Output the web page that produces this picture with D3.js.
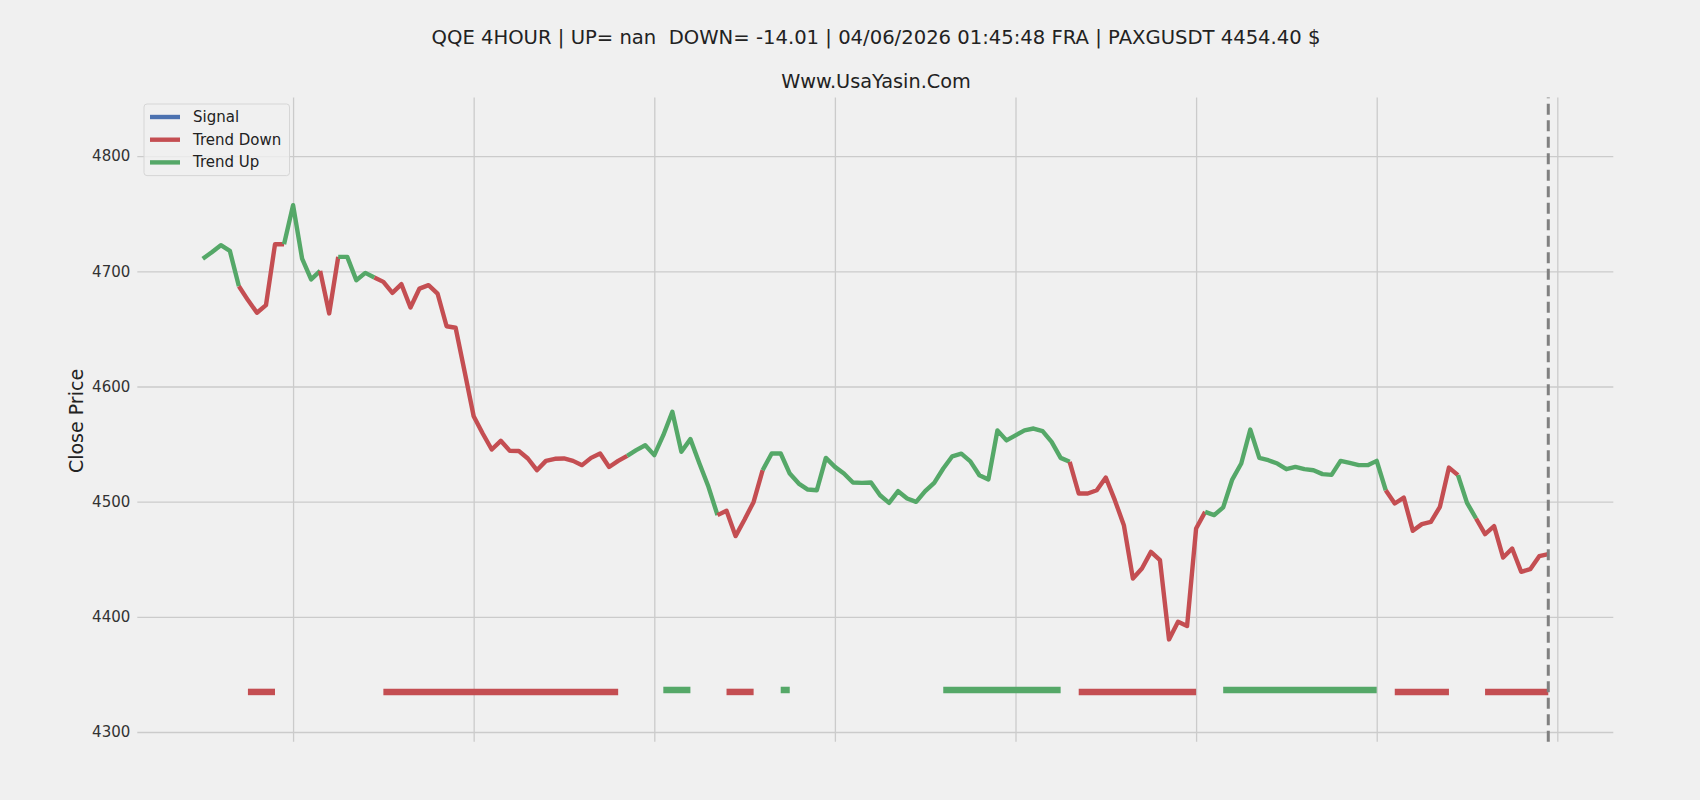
<!DOCTYPE html>
<meta charset="utf-8">

<!-- Load d3.js -->
<script src="https://d3js.org/d3.v7.min.js"></script>

<style>
  body { margin: 0; background: #f0f0f0; }
  text { font-family: "DejaVu Sans", sans-serif; }
</style>

<!-- Create a div where the graph will take place -->
<div id="my_dataviz"></div>

<script>

// close price of each 4 hour bar
var close = [
  4710.8, 4716.6, 4722.7, 4717.7, 4687.0, 4675.0, 4664.0, 4670.6, 4723.5, 4723.5,
  4757.4, 4711.0, 4693.0, 4700.4, 4663.4, 4712.5, 4712.5, 4692.3, 4698.6, 4694.6,
  4690.8, 4681.3, 4688.8, 4668.6, 4685.0, 4688.0, 4680.7, 4652.3, 4651.0, 4612.8,
  4574.2, 4559.2, 4545.3, 4552.8, 4544.1, 4544.0, 4537.5, 4527.3, 4535.4, 4537.2,
  4537.5, 4535.4, 4531.7, 4538.0, 4541.8, 4530.1, 4535.4, 4539.8, 4544.7, 4549.0,
  4540.4, 4557.7, 4578.0, 4543.3, 4554.3, 4533.2, 4512.9, 4488.3, 4492.1, 4470.1,
  4484.5, 4499.8, 4527.3, 4541.8, 4541.8, 4524.4, 4515.7, 4510.5, 4509.9, 4538.0,
  4530.2, 4524.4, 4516.6, 4516.3, 4516.6, 4505.6, 4499.0, 4509.1, 4502.8, 4499.8,
  4509.1, 4516.3, 4528.8, 4539.4, 4541.7, 4535.0, 4522.9, 4519.3, 4561.9, 4553.2,
  4557.6, 4561.9, 4563.5, 4561.2, 4551.9, 4538.0, 4534.6, 4507.1, 4507.1, 4509.9,
  4521.0, 4501.3, 4479.6, 4433.3, 4442.0, 4456.4, 4449.2, 4380.4, 4395.7, 4392.0,
  4476.7, 4491.1, 4488.3, 4495.0, 4519.2, 4533.1, 4562.6, 4538.0, 4536.0, 4533.1,
  4528.2, 4530.2, 4528.2, 4527.3, 4523.9, 4523.3, 4535.4, 4533.7, 4531.7, 4531.7,
  4535.4, 4509.9, 4498.4, 4503.5, 4474.7, 4480.5, 4482.5, 4495.5, 4529.6, 4523.0,
  4499.0, 4485.4, 4471.8, 4478.7, 4451.5, 4459.3, 4439.1, 4441.4, 4452.7, 4454.4
];

// trend of the segment ending at each bar: U = up (green), D = down (red)
var trend = (
  "UUUUUDDDDDUUUUDDUUUU" +
  "DDDDDDDDDDDDDDDDDDDDDDDDDDDDUUUUUUUUUU" +
  "DDDDDUUUUUUUUUUUUUUUUUUUUUUUUUUUUUUUUUU" +
  "DDDDDDDDDDDDDDDUUUUUUUUUUUUUUUUUUUUDDDDDDDDUUDDDDDDDD"
).split("");

// trend markers along the bottom: [first bar, last bar]
var downBars = [[5, 8], [20, 46], [58, 61], [97, 110], [132, 138], [142, 149]];
var upBars = [[51, 54], [64, 65], [82, 95], [113, 130]];
var downLevel = 4334.8;
var upLevel = 4336.5;

// ticks / grid
var yTicks = [4300, 4400, 4500, 4600, 4700, 4800];
var xGrid = [10, 30, 50, 70, 90, 110, 130, 150];

// legend
var legendLabels = ["Signal", "Trend Down", "Trend Up"];
var legendColors = ["#4c72b0", "#c44e52", "#55a868"];

var titleText = "QQE 4HOUR | UP= nan  DOWN= -14.01 | 04/06/2026 01:45:48 FRA | PAXGUSDT 4454.40 $";
var subTitle = "Www.UsaYasin.Com";

var colorOf = {U: "#55a868", D: "#c44e52"};

// set the dimensions and margins of the graph
var margin = {top: 97.6, right: 86.7, bottom: 58.3, left: 137.3},
    width = 1700 - margin.left - margin.right,
    height = 800 - margin.top - margin.bottom;

var root = d3.select("#my_dataviz")
  .append("svg")
    .attr("width", 1700)
    .attr("height", 800)
    .style("background", "#f0f0f0");

var svg = root.append("g")
    .attr("transform", "translate(" + margin.left + "," + margin.top + ")");

// titles
root.append("text")
  .attr("x", 876).attr("y", 37)
  .attr("text-anchor", "middle")
  .attr("dominant-baseline", "central")
  .style("white-space", "pre")
  .style("font-size", "19.6px")
  .style("fill", "#222")
  .text(titleText);

root.append("text")
  .attr("x", 876).attr("y", 81)
  .attr("text-anchor", "middle")
  .attr("dominant-baseline", "central")
  .style("font-size", "19.3px")
  .style("fill", "#222")
  .text(subTitle);

// scales
var x = d3.scaleLinear()
  .domain([-7.25, 156.2])
  .range([0, width]);

var y = d3.scaleLinear()
  .domain([4291.6, 4850.8])
  .range([height, 0]);

// X grid (no labels)
var gx = svg.append("g")
  .attr("transform", "translate(0," + height + ")")
  .call(d3.axisBottom(x).tickValues(xGrid).tickSize(-height).tickFormat(""));
gx.select(".domain").remove();
gx.selectAll("line").attr("stroke", "#cbcbcb").attr("stroke-width", 1.3);

// Y axis with grid
var gy = svg.append("g")
  .call(d3.axisLeft(y).tickValues(yTicks).tickSize(-width).tickPadding(7).tickFormat(d3.format("d")));
gy.select(".domain").remove();
gy.selectAll("line").attr("stroke", "#cbcbcb").attr("stroke-width", 1.3);
gy.selectAll("text")
  .style("font-size", "15px")
  .style("font-family", "DejaVu Sans, sans-serif")
  .attr("fill", "#333");

// y label
root.append("text")
  .attr("transform", "translate(76,421)rotate(-90)")
  .attr("text-anchor", "middle")
  .attr("dominant-baseline", "central")
  .style("font-size", "19px")
  .style("fill", "#222")
  .text("Close Price");

// split the close line in runs of one colour
var runs = [];
var cur = null;
for (var i = 1; i < close.length; i++) {
  if (cur && cur.t == trend[i]) {
    cur.idx.push(i);
  } else {
    cur = {t: trend[i], idx: [i - 1, i]};
    runs.push(cur);
  }
}

var line = d3.line()
  .x(function(d) { return x(d); })
  .y(function(d) { return y(close[d]); });

svg.selectAll("myrun")
  .data(runs)
  .enter()
  .append("path")
    .attr("d", function(d) { return line(d.idx); })
    .attr("fill", "none")
    .attr("stroke", function(d) { return colorOf[d.t]; })
    .attr("stroke-width", 4.4)
    .attr("stroke-linejoin", "round");

// trend markers
svg.selectAll("downbar")
  .data(downBars)
  .enter()
  .append("line")
    .attr("x1", function(d) { return x(d[0]); })
    .attr("x2", function(d) { return x(d[1]); })
    .attr("y1", y(downLevel))
    .attr("y2", y(downLevel))
    .attr("stroke", "#c44e52")
    .attr("stroke-width", 6.5);

svg.selectAll("upbar")
  .data(upBars)
  .enter()
  .append("line")
    .attr("x1", function(d) { return x(d[0]); })
    .attr("x2", function(d) { return x(d[1]); })
    .attr("y1", y(upLevel))
    .attr("y2", y(upLevel))
    .attr("stroke", "#55a868")
    .attr("stroke-width", 6.5);

// last bar marker
svg.append("line")
  .attr("x1", x(close.length - 1))
  .attr("x2", x(close.length - 1))
  .attr("y1", height)
  .attr("y2", 0)
  .attr("stroke", "#808080")
  .attr("stroke-width", 3)
  .attr("stroke-dasharray", "11,5.5");

// legend
var legend = root.append("g").attr("transform", "translate(144,104)");
legend.append("rect")
  .attr("width", 145.5)
  .attr("height", 71.6)
  .attr("rx", 3)
  .attr("fill", "#f0f0f0")
  .attr("fill-opacity", 0.8)
  .attr("stroke", "#d6d6d6");

legend.selectAll("item")
  .data(legendLabels)
  .enter()
  .append("line")
    .attr("x1", 6).attr("x2", 36)
    .attr("y1", function(d, i) { return 13 + i * 22.7; })
    .attr("y2", function(d, i) { return 13 + i * 22.7; })
    .attr("stroke", function(d, i) { return legendColors[i]; })
    .attr("stroke-width", 4.4);

legend.selectAll("label")
  .data(legendLabels)
  .enter()
  .append("text")
    .attr("x", 49)
    .attr("y", function(d, i) { return 13 + i * 22.7; })
    .attr("dominant-baseline", "central")
    .style("font-size", "15px")
    .style("fill", "#222")
    .text(function(d) { return d; });

</script>
